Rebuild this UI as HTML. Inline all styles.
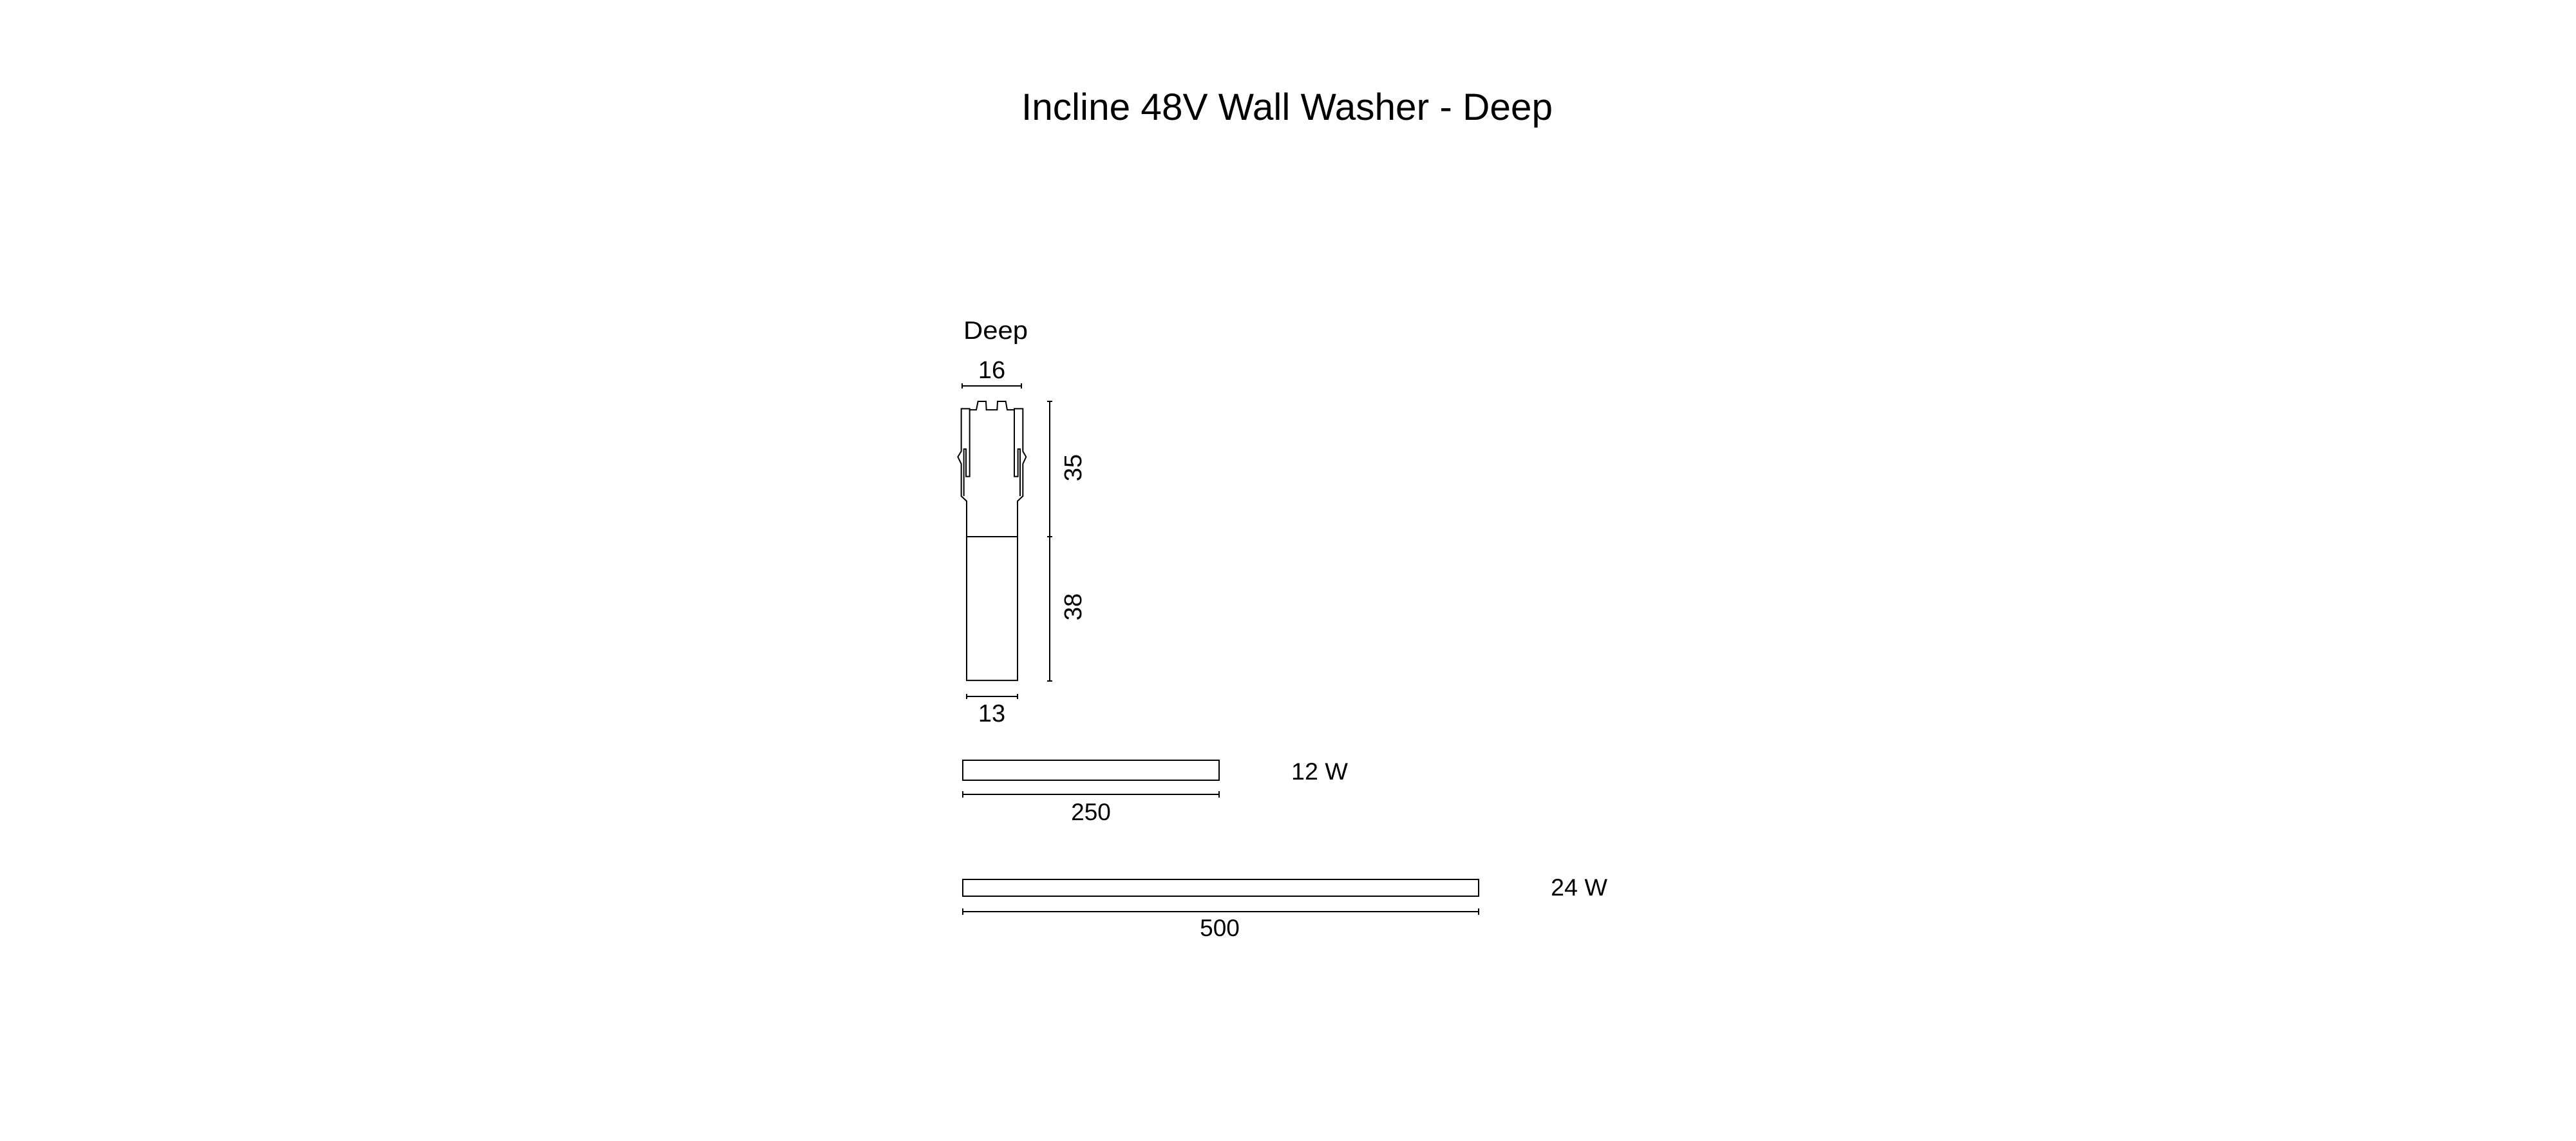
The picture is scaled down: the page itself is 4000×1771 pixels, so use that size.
<!DOCTYPE html>
<html><head><meta charset="utf-8"><style>
html,body{margin:0;padding:0;background:#fff;}
svg{display:block;}
text{font-family:"Liberation Sans",sans-serif;fill:#000;}
</style></head><body>
<svg width="4000" height="1771" viewBox="0 0 4000 1771" xmlns="http://www.w3.org/2000/svg">
<rect width="4000" height="1771" fill="#fff"/>
<text x="1586" y="186" font-size="58" textLength="825" lengthAdjust="spacingAndGlyphs">Incline 48V Wall Washer - Deep</text>
<text x="1496" y="526" font-size="39" textLength="100" lengthAdjust="spacingAndGlyphs">Deep</text>
<text x="1540" y="587" font-size="38" text-anchor="middle">16</text>
<g stroke="#000" stroke-width="2" fill="none">
<line x1="1494" y1="599" x2="1586" y2="599"/><line x1="1494" y1="595" x2="1494" y2="603"/><line x1="1586" y1="595" x2="1586" y2="603"/>
<line x1="1630" y1="623" x2="1630" y2="1057"/><line x1="1626" y1="623" x2="1634" y2="623"/><line x1="1626" y1="833" x2="1634" y2="833"/><line x1="1626" y1="1057" x2="1634" y2="1057"/>
<line x1="1501" y1="1081" x2="1580" y2="1081"/><line x1="1501" y1="1077" x2="1501" y2="1085"/><line x1="1580" y1="1077" x2="1580" y2="1085"/>
<g transform="translate(1460,470) scale(0.3333,0.4348)">
<path vector-effect="non-scaling-stroke" d="M98,378 L137,378 L137,382 L168,382 L176,352 L213,352 L215,382 L265,382 L267,352 L305,352 L312,382 L345,382 L345,378 L385,378 L385,530 L400,550 L385,575 L385,690 L360,708 L360,1348 L123,1348 L123,708 L98,690 L98,575 L82,550 L98,530 Z"/>
<path vector-effect="non-scaling-stroke" d="M137,382 L137,620 L120,620 L120,522 L110,522 L110,690"/>
<path vector-effect="non-scaling-stroke" d="M345,382 L345,620 L362,620 L362,522 L372,522 L372,690"/>
<line vector-effect="non-scaling-stroke" x1="123" y1="835" x2="360" y2="835"/>
</g>
<rect x="1495" y="1180" width="398" height="31"/>
<line x1="1495" y1="1233" x2="1893" y2="1233"/><line x1="1495" y1="1228" x2="1495" y2="1238"/><line x1="1893" y1="1228" x2="1893" y2="1238"/>
<rect x="1495" y="1365" width="801" height="26"/>
<line x1="1495" y1="1415" x2="2296" y2="1415"/><line x1="1495" y1="1410" x2="1495" y2="1420"/><line x1="2296" y1="1410" x2="2296" y2="1420"/>
</g>
<text transform="translate(1679,726) rotate(-90)" font-size="38" text-anchor="middle">35</text>
<text transform="translate(1679,942) rotate(-90)" font-size="38" text-anchor="middle">38</text>
<text x="1540" y="1120" font-size="38" text-anchor="middle">13</text>
<text x="1694" y="1273" font-size="37" text-anchor="middle">250</text>
<text x="2005" y="1210" font-size="37" textLength="88" lengthAdjust="spacingAndGlyphs">12 W</text>
<text x="1894" y="1453" font-size="37" text-anchor="middle">500</text>
<text x="2408" y="1390" font-size="37" textLength="88" lengthAdjust="spacingAndGlyphs">24 W</text>
</svg>
</body></html>
